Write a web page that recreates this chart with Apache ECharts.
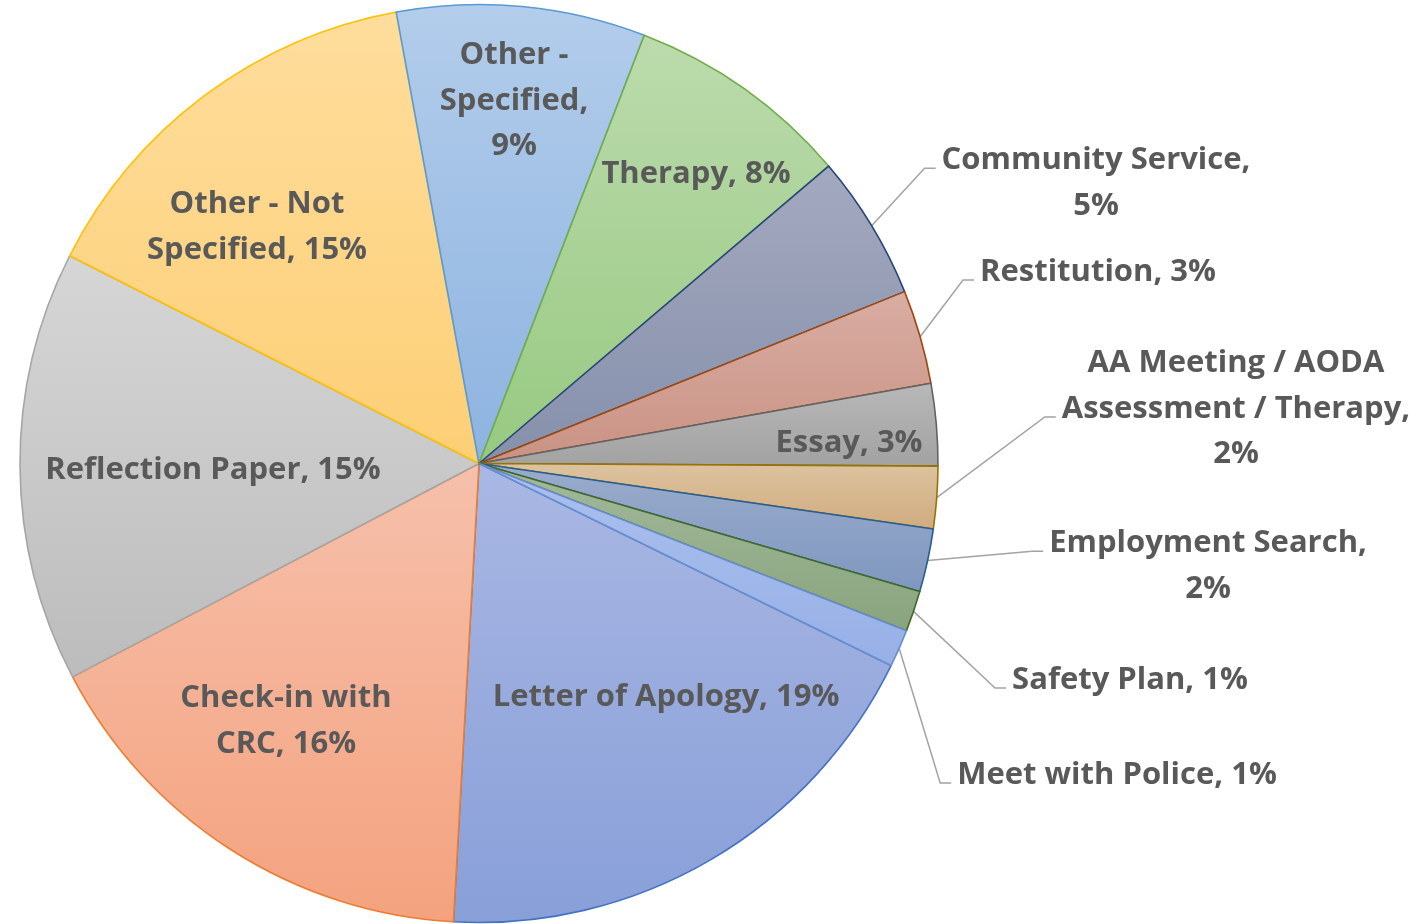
<!DOCTYPE html>
<html><head><meta charset="utf-8">
<script src="https://cdn.jsdelivr.net/npm/echarts@6/dist/echarts.min.js"></script>
<style>html,body{margin:0;padding:0;background:#fff}#chart{width:1420px;height:924px}</style>
</head><body><div id="chart"></div>
<script>
// ---- data ----
const categories = ['Letter of Apology', 'Check-in with CRC', 'Reflection Paper', 'Other - Not Specified',
  'Other - Specified', 'Therapy', 'Community Service', 'Restitution', 'Essay',
  'AA Meeting / AODA Assessment / Therapy', 'Employment Search', 'Safety Plan', 'Meet with Police'];
const values = [18.64, 16.42, 15.17, 14.64, 8.75, 7.92, 5.11, 3.31, 2.89, 2.19, 2.22, 1.44, 1.31];

// ---- style / layout ----
const borderColors = ['#4472C4', '#ED7D31', '#A5A5A5', '#FFC000', '#5B9BD5', '#70AD47', '#264478',
  '#9E480E', '#636363', '#997300', '#255E91', '#43682B', '#698ED0'];
const fillTop = ['#a9b7e3', '#f6c0ab', '#d6d6d6', '#fedd9c', '#b3cdeb', '#bcdbad', '#a3a9bf',
  '#d9ada3', '#b8b8b8', '#dcc39f', '#9aaccc', '#a3b99b', '#aac0ee'];
const fillBottom = ['#889fd8', '#f4a27e', '#bcbcbc', '#fdcf76', '#8db3e0', '#97c981', '#8690ab',
  '#c99283', '#a2a2a2', '#d1ab7f', '#7f97bf', '#88a47d', '#97b0e6'];
const lineWords = [[4], [2, 2], [3], [3, 2], [2, 1, 1], [2], [2, 1], [2], [2], [4, 3, 1], [2, 1], [3], [4]];
const outside = [false, false, false, false, false, false, true, true, false, true, true, true, true];
const labelPos = [[666, 697], [286, 721], [213, 470], [257, 227], [514, 101], [696, 174], [1096, 183],
  [1098, 272], [849, 443], [1236, 409], [1208, 566], [1130, 680], [1117, 775]];
const LINE_H = 45.5;

const chart = echarts.init(document.getElementById('chart'));
const data = categories.map((name, i) => ({
  name: name,
  value: values[i],
  itemStyle: {
    color: new echarts.graphic.LinearGradient(0, 0, 0, 1, [
      { offset: 0, color: fillTop[i] }, { offset: 1, color: fillBottom[i] }]),
    borderColor: borderColors[i]
  },
  label: { position: outside[i] ? 'outside' : 'inside' },
  labelLine: { show: outside[i] }
}));

chart.setOption({
  animation: false,
  series: [{
    type: 'pie',
    center: [479, 463.5],
    radius: 459,
    startAngle: -26.1,
    clockwise: true,
    avoidLabelOverlap: false,
    percentPrecision: 2,
    emphasis: { disabled: true },
    itemStyle: { borderWidth: 1.6, borderJoin: 'round' },
    label: {
      show: true,
      color: '#595959',
      fontFamily: 'Open Sans',
      fontWeight: 'bold',
      fontSize: 31,
      lineHeight: LINE_H,
      formatter: function (p) {
        const words = (p.name + ', ' + Math.round(p.percent) + '%').split(' ');
        const spec = lineWords[p.dataIndex];
        const lines = [];
        let k = 0;
        spec.forEach(n => { lines.push(words.slice(k, k + n).join(' ')); k += n; });
        return lines.join('\n');
      }
    },
    labelLine: { show: true, length: 20, length2: 10, smooth: false,
      lineStyle: { color: '#a3a3a3', width: 1.5 } },
    labelLayout: function (p) {
      const i = p.dataIndex;
      const x = labelPos[i][0], y = labelPos[i][1];
      const res = { x: x, y: y, align: 'center', verticalAlign: 'middle' };
      if (outside[i] && p.labelLinePoints) {
        const n = lineWords[i].length;
        const left = x - p.labelRect.width / 2;
        const ay = y + (Math.floor((n - 1) / 2) - (n - 1) / 2) * LINE_H + 8;
        res.labelLinePoints = [p.labelLinePoints[0], [left - 17, ay], [left - 6, ay]];
      }
      return res;
    },
    data: data
  }]
});
</script>
</body></html>
